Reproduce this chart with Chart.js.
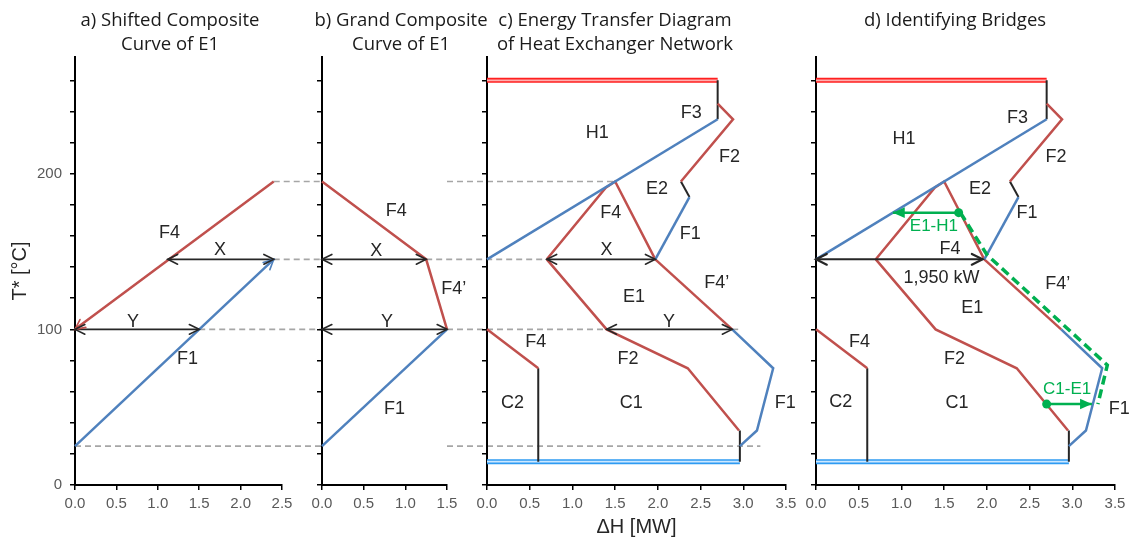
<!DOCTYPE html>
<html>
<head>
<meta charset="utf-8">
<script src="https://cdn.jsdelivr.net/npm/chart.js@4.4.1/dist/chart.umd.min.js"></script>
<style>
  html, body { margin: 0; padding: 0; background: #fff; }
  #wrap { position: relative; width: 1134px; height: 542px; overflow: hidden; }
  #wrap canvas { position: absolute; top: 0; }
</style>
</head>
<body>
<div id="wrap">
  <canvas id="guides" width="1134" height="542" style="left:0"></canvas>
  <canvas id="pa" width="340" height="542" style="left:0"></canvas>
  <canvas id="pb" width="182" height="542" style="left:310px"></canvas>
  <canvas id="pc" width="370" height="542" style="left:430px"></canvas>
  <canvas id="pd" width="348" height="542" style="left:781px"></canvas>
</div>
<script>
// ---------- shared temperature axis (shifted temperature T*, °C) ----------
const T_MIN = 0;
const T_MAX = 275;
const T_STEP = 20;
const T_LABELS = [0, 100, 200];

// ---------- a) shifted composite curve of E1  ([ΔH MW, T* °C]) ----------
const aHotF4 = [[2.4, 195], [0, 100]];
const aColdF1 = [[0, 25], [2.4, 145]];
const aArrowX = [[1.12, 145], [2.4, 145]];
const aArrowY = [[0, 100], [1.5, 100]];

// ---------- b) grand composite curve of E1 ----------
const bGccF4 = [[0, 195], [1.25, 145], [1.5, 100]];
const bGccF1 = [[0, 25], [1.5, 100]];
const bArrowX = [[0, 145], [1.25, 145]];
const bArrowY = [[0, 100], [1.5, 100]];

// ---------- c/d) energy transfer diagram of the network ----------
const hotUtility = [[0, 260], [2.7, 260]];
const coldUtility = [[0, 15], [2.96, 15]];
const h1Edge = [[2.7, 260], [2.7, 235]];
const f1Top = [[0, 145], [2.7, 235]];
const f3f2 = [[2.7, 245], [2.88, 235], [2.27, 195]];
const e2Step = [[2.27, 195], [2.37, 185]];
const f1Middle = [[2.37, 185], [1.97, 145]];
const f4Upper = [[0.7, 145], [1.39, 191], [1.5, 195], [1.97, 145]];
const e1Lower = [[0.7, 145], [1.4, 100], [2.35, 75], [2.95, 35]];
const f4Prime = [[1.97, 145], [2.87, 100]];
const f1Bottom = [[2.87, 100], [3.35, 75], [3.16, 35], [2.96, 25]];
const c1Edge = [[2.96, 35], [2.96, 15]];
const f4Lower = [[0, 100], [0.6, 75]];
const c2Edge = [[0.6, 75], [0.6, 15]];
const cArrowX = [[0.7, 145], [1.97, 145]];
const cArrowY = [[1.4, 100], [2.87, 100]];
const cYTail = [[2.87, 100], [2.97, 100]];

// ---------- d) bridges ----------
const DUTY_KW = 1950;
const dutyArrow = [[0, 145], [DUTY_KW / 1000, 145]];
const bridgeE1H1 = [[1.67, 175], [0.9, 175]];
const bridgeC1E1 = [[2.7, 52], [3.23, 52]];
const bridgePath = [[1.69, 175], [2.0, 148], [3.41, 77], [3.3, 52]];

// ---------- text placed in data coordinates ----------
const textA = [
  { text: 'F4', x: 1.14, y: 162 }, { text: 'X', x: 1.75, y: 151 },
  { text: 'Y', x: 0.7, y: 105 }, { text: 'F1', x: 1.36, y: 81 }
];
const textB = [
  { text: 'F4', x: 0.89, y: 176 }, { text: 'X', x: 0.65, y: 150.5 },
  { text: 'F4\u2019', x: 1.58, y: 126 }, { text: 'Y', x: 0.78, y: 105 },
  { text: 'F1', x: 0.87, y: 48.6 }
];
const textC = [
  { text: 'H1', x: 1.29, y: 226 }, { text: 'F3', x: 2.39, y: 239 },
  { text: 'F2', x: 2.84, y: 211 }, { text: 'E2', x: 1.99, y: 190 },
  { text: 'F4', x: 1.45, y: 174.5 }, { text: 'F1', x: 2.38, y: 161 },
  { text: 'X', x: 1.40, y: 151 }, { text: 'F4\u2019', x: 2.69, y: 129.5 },
  { text: 'E1', x: 1.72, y: 121 }, { text: 'Y', x: 2.13, y: 105 },
  { text: 'F4', x: 0.57, y: 91.6 }, { text: 'F2', x: 1.65, y: 80.7 },
  { text: 'C2', x: 0.30, y: 52.4 }, { text: 'C1', x: 1.69, y: 52.4 },
  { text: 'F1', x: 3.49, y: 52.8 }
];
const textD = [
  { text: 'H1', x: 1.03, y: 222.6 }, { text: 'F3', x: 2.36, y: 235.8 },
  { text: 'F2', x: 2.81, y: 210.8 }, { text: 'E2', x: 1.92, y: 190 },
  { text: 'F1', x: 2.47, y: 174.8 }, { text: 'E1-H1', x: 1.38, y: 166.5, green: true },
  { text: 'F4', x: 1.57, y: 151.3 },
  { text: DUTY_KW.toLocaleString('en-US') + ' kW', x: 1.47, y: 132.7 },
  { text: 'F4\u2019', x: 2.83, y: 129 }, { text: 'E1', x: 1.83, y: 114 },
  { text: 'F4', x: 0.51, y: 91.6 }, { text: 'F2', x: 1.62, y: 80.7 },
  { text: 'C2', x: 0.29, y: 53.5 }, { text: 'C1', x: 1.65, y: 52.4 },
  { text: 'C1-E1', x: 2.94, y: 61.4, green: true }, { text: 'F1', x: 3.55, y: 48.8 }
];

// dashed guides joining equal temperatures across panels
const guideLines = [
  { t: 195, segs: [['a', 2.4, 'b', 0], ['b', 1.5, 'c', 1.5]] },
  { t: 145, segs: [['a', 2.4, 'b', 0], ['b', 1.25, 'c', 0.7]] },
  { t: 100, segs: [['a', 1.5, 'b', 0], ['b', 1.5, 'c', 1.4]] },
  { t: 25,  segs: [['a', 0, 'b', 0], ['b', 1.5, 'c', 3.2]] }
];

// ---------- styling ----------
const RED = '#C0504D', BLUE = '#4F81BD', DARK = '#262626', GREEN = '#00B050';
const SANS = "'Liberation Sans', Arial, sans-serif";
const TITLE_FONT = "'Open Sans', 'Noto Sans', sans-serif";

const pts = arr => arr.map(([x, y]) => ({ x, y }));
function line(data, color, width, more) {
  return Object.assign({
    data: pts(data), borderColor: color, backgroundColor: color, borderWidth: width,
    showLine: true, pointRadius: 0, pointHoverRadius: 0, fill: false, tension: 0, clip: false
  }, more || {});
}
// datasets listed bottom-to-top; give them matching draw order
function stack(list) { return list.map((d, i) => Object.assign(d, { order: list.length - i })); }

function drawHead(ctx, from, to, style, color, lw) {
  const ang = Math.atan2(to.y - from.y, to.x - from.x);
  const len = style.size || 11, spread = style.spread || 0.46;
  ctx.save();
  ctx.setLineDash([]);
  ctx.strokeStyle = color; ctx.fillStyle = color; ctx.lineWidth = lw;
  ctx.lineJoin = 'miter'; ctx.lineCap = 'round';
  ctx.beginPath();
  ctx.moveTo(to.x - len * Math.cos(ang - spread), to.y - len * Math.sin(ang - spread));
  ctx.lineTo(to.x, to.y);
  ctx.lineTo(to.x - len * Math.cos(ang + spread), to.y - len * Math.sin(ang + spread));
  if (style.filled) { ctx.closePath(); ctx.fill(); } else { ctx.stroke(); }
  ctx.restore();
}

const arrowHeads = {
  id: 'arrowHeads',
  afterDatasetsDraw(chart) {
    const ctx = chart.ctx;
    chart.data.datasets.forEach((ds, i) => {
      const p = chart.getDatasetMeta(i).data;
      if (p.length < 2) return;
      if (ds.arrowEnd) drawHead(ctx, p[p.length - 2], p[p.length - 1], ds.arrowEnd, ds.borderColor, ds.arrowEnd.width || ds.borderWidth);
      if (ds.arrowStart) drawHead(ctx, p[1], p[0], ds.arrowStart, ds.borderColor, ds.arrowStart.width || ds.borderWidth);
    });
  }
};

const streamText = {
  id: 'streamText',
  afterDatasetsDraw(chart, args, opts) {
    const { ctx, scales: { x, y } } = chart;
    ctx.save();
    ctx.textAlign = 'center';
    ctx.textBaseline = 'middle';
    (opts.items || []).forEach(it => {
      ctx.font = it.green ? '17px ' + SANS : '18px ' + SANS;
      ctx.fillStyle = it.green ? GREEN : DARK;
      ctx.fillText(it.text, x.getPixelForValue(it.x), y.getPixelForValue(it.y));
    });
    ctx.restore();
  }
};

function makeChart(id, cfg) {
  const scaleX = {
    type: 'linear', min: 0, max: cfg.xMax,
    border: { display: true, color: '#000', width: 2 },
    grid: { drawOnChartArea: false, drawTicks: true, tickLength: 5, color: '#000', lineWidth: 1.5 },
    ticks: {
      stepSize: 0.5, autoSkip: false, maxRotation: 0, padding: 5,
      color: '#595959', font: { family: SANS, size: 15 },
      callback: v => Number(v).toFixed(1)
    },
    title: cfg.xTitle ? {
      display: true, text: cfg.xTitle, color: DARK,
      font: { family: SANS, size: 20 }, padding: { top: 0, bottom: 3 }
    } : { display: false },
    afterFit(s) { s.height = 57; s.paddingLeft = 0; s.paddingRight = cfg.rightGap; }
  };
  const scaleY = {
    type: 'linear', min: T_MIN, max: T_MAX,
    border: { display: true, color: '#000', width: 2 },
    grid: { drawOnChartArea: false, drawTicks: true, tickLength: 5, color: '#000', lineWidth: 1.5 },
    ticks: {
      stepSize: T_STEP, autoSkip: false, padding: 8,
      color: '#595959', font: { family: SANS, size: 15 },
      callback: v => (cfg.yLabels && T_LABELS.includes(v)) ? String(v) : ''
    },
    afterBuildTicks(s) { s.ticks = s.ticks.filter(t => t.value % T_STEP === 0); },
    title: cfg.yTitle ? {
      display: true, text: cfg.yTitle, color: DARK,
      font: { family: SANS, size: 20 }, padding: { top: 8, bottom: 0 }
    } : { display: false },
    afterFit(s) { s.width = cfg.yWidth; s.paddingTop = 0; s.paddingBottom = 0; }
  };
  const lines = Array.isArray(cfg.title) ? cfg.title.length : 1;
  return new Chart(document.getElementById(id), {
    type: 'scatter',
    data: { datasets: stack(cfg.datasets) },
    options: {
      responsive: false, animation: false, events: [],
      layout: { padding: 0 },
      plugins: {
        legend: { display: false },
        tooltip: { enabled: false },
        title: {
          display: true, text: cfg.title, color: '#1a1a1a',
          font: { family: TITLE_FONT, size: 18.5, weight: 'normal', lineHeight: 24 / 18.5 },
          padding: { top: 9, bottom: lines === 1 ? 24 : 0 }
        },
        streamText: { items: cfg.text }
      },
      scales: { x: scaleX, y: scaleY }
    },
    plugins: [arrowHeads, streamText]
  });
}

const OPEN = { size: 11, spread: 0.46, width: 1.6 };
const OPEN_BOLD = { size: 12, spread: 0.46, width: 2.2 };
const FILLED = { size: 13, spread: 0.42, filled: true };

// network curves common to panels c and d
function networkCurves() {
  return [
    line(hotUtility, '#FF1F1F', 5),
    line(hotUtility, '#FFB0B0', 1.6),
    line(coldUtility, '#2E9BF2', 5),
    line(coldUtility, '#CDE8FF', 1.6),
    line(h1Edge, DARK, 2),
    line(c1Edge, DARK, 2),
    line(c2Edge, DARK, 2),
    line(e2Step, DARK, 2),
    line(f4Upper, RED, 2.5),
    line(e1Lower, RED, 2.5),
    line(f4Prime, RED, 2.5),
    line(f4Lower, RED, 2.5),
    line(f3f2, RED, 2.5),
    line(f1Top, BLUE, 2.5),
    line(f1Middle, BLUE, 2.5),
    line(f1Bottom, BLUE, 2.5)
  ];
}

const greenDot = c => (c.dataIndex === 0 ? 4.5 : 0);

const charts = {
  a: makeChart('pa', {
    xMax: 2.5, yWidth: 75, rightGap: 58, yLabels: true, yTitle: 'T* [\u00B0C]',
    title: ['a) Shifted Composite', 'Curve of E1'],
    text: textA,
    datasets: [
      line(aHotF4, RED, 2.5, { arrowEnd: OPEN }),
      line(aColdF1, BLUE, 2.5, { arrowEnd: OPEN }),
      line(aArrowX, DARK, 1.6, { arrowStart: OPEN, arrowEnd: OPEN }),
      line(aArrowY, DARK, 1.6, { arrowStart: OPEN, arrowEnd: OPEN })
    ]
  }),
  b: makeChart('pb', {
    xMax: 1.5, yWidth: 12, rightGap: 45,
    title: ['b) Grand Composite', 'Curve of E1'],
    text: textB,
    datasets: [
      line(bGccF4, RED, 2.5),
      line(bGccF1, BLUE, 2.5),
      line(bArrowX, DARK, 1.6, { arrowStart: OPEN, arrowEnd: OPEN }),
      line(bArrowY, DARK, 1.6, { arrowStart: OPEN, arrowEnd: OPEN })
    ]
  }),
  c: makeChart('pc', {
    xMax: 3.5, yWidth: 57, rightGap: 14, xTitle: '\u0394H [MW]',
    title: ['c) Energy Transfer Diagram', 'of Heat Exchanger Network'],
    text: textC,
    datasets: [
      line(cYTail, '#A6A6A6', 1.6, { borderDash: [6, 4] }),
      ...networkCurves(),
      line(cArrowX, DARK, 1.6, { arrowStart: OPEN, arrowEnd: OPEN }),
      line(cArrowY, DARK, 1.6, { arrowStart: OPEN, arrowEnd: OPEN })
    ]
  }),
  d: makeChart('pd', {
    xMax: 3.5, yWidth: 35, rightGap: 14,
    title: 'd) Identifying Bridges',
    text: textD,
    datasets: [
      ...networkCurves(),
      line(bridgePath, GREEN, 3.5, { borderDash: [9, 5] }),
      line(dutyArrow, DARK, 2, { arrowStart: OPEN_BOLD, arrowEnd: OPEN_BOLD }),
      line(bridgeE1H1, GREEN, 2.5, { arrowEnd: FILLED, pointRadius: greenDot, pointBackgroundColor: GREEN, pointBorderWidth: 0 }),
      line(bridgeC1E1, GREEN, 2.5, { arrowEnd: FILLED, pointRadius: greenDot, pointBackgroundColor: GREEN, pointBorderWidth: 0 })
    ]
  })
};

// dashed guides spanning the panels, placed through each panel's own scales
(function drawGuides() {
  const cv = document.getElementById('guides');
  const ctx = cv.getContext('2d');
  const offset = k => charts[k].canvas.offsetLeft;
  const px = (k, v) => offset(k) + charts[k].scales.x.getPixelForValue(v);
  ctx.strokeStyle = '#A6A6A6';
  ctx.lineWidth = 1.6;
  ctx.setLineDash([6, 4]);
  guideLines.forEach(g => {
    const y = charts.a.scales.y.getPixelForValue(g.t);
    g.segs.forEach(([p0, x0, p1, x1]) => {
      ctx.beginPath();
      ctx.moveTo(px(p0, x0), y);
      ctx.lineTo(px(p1, x1), y);
      ctx.stroke();
    });
  });
})();
</script>
</body>
</html>
